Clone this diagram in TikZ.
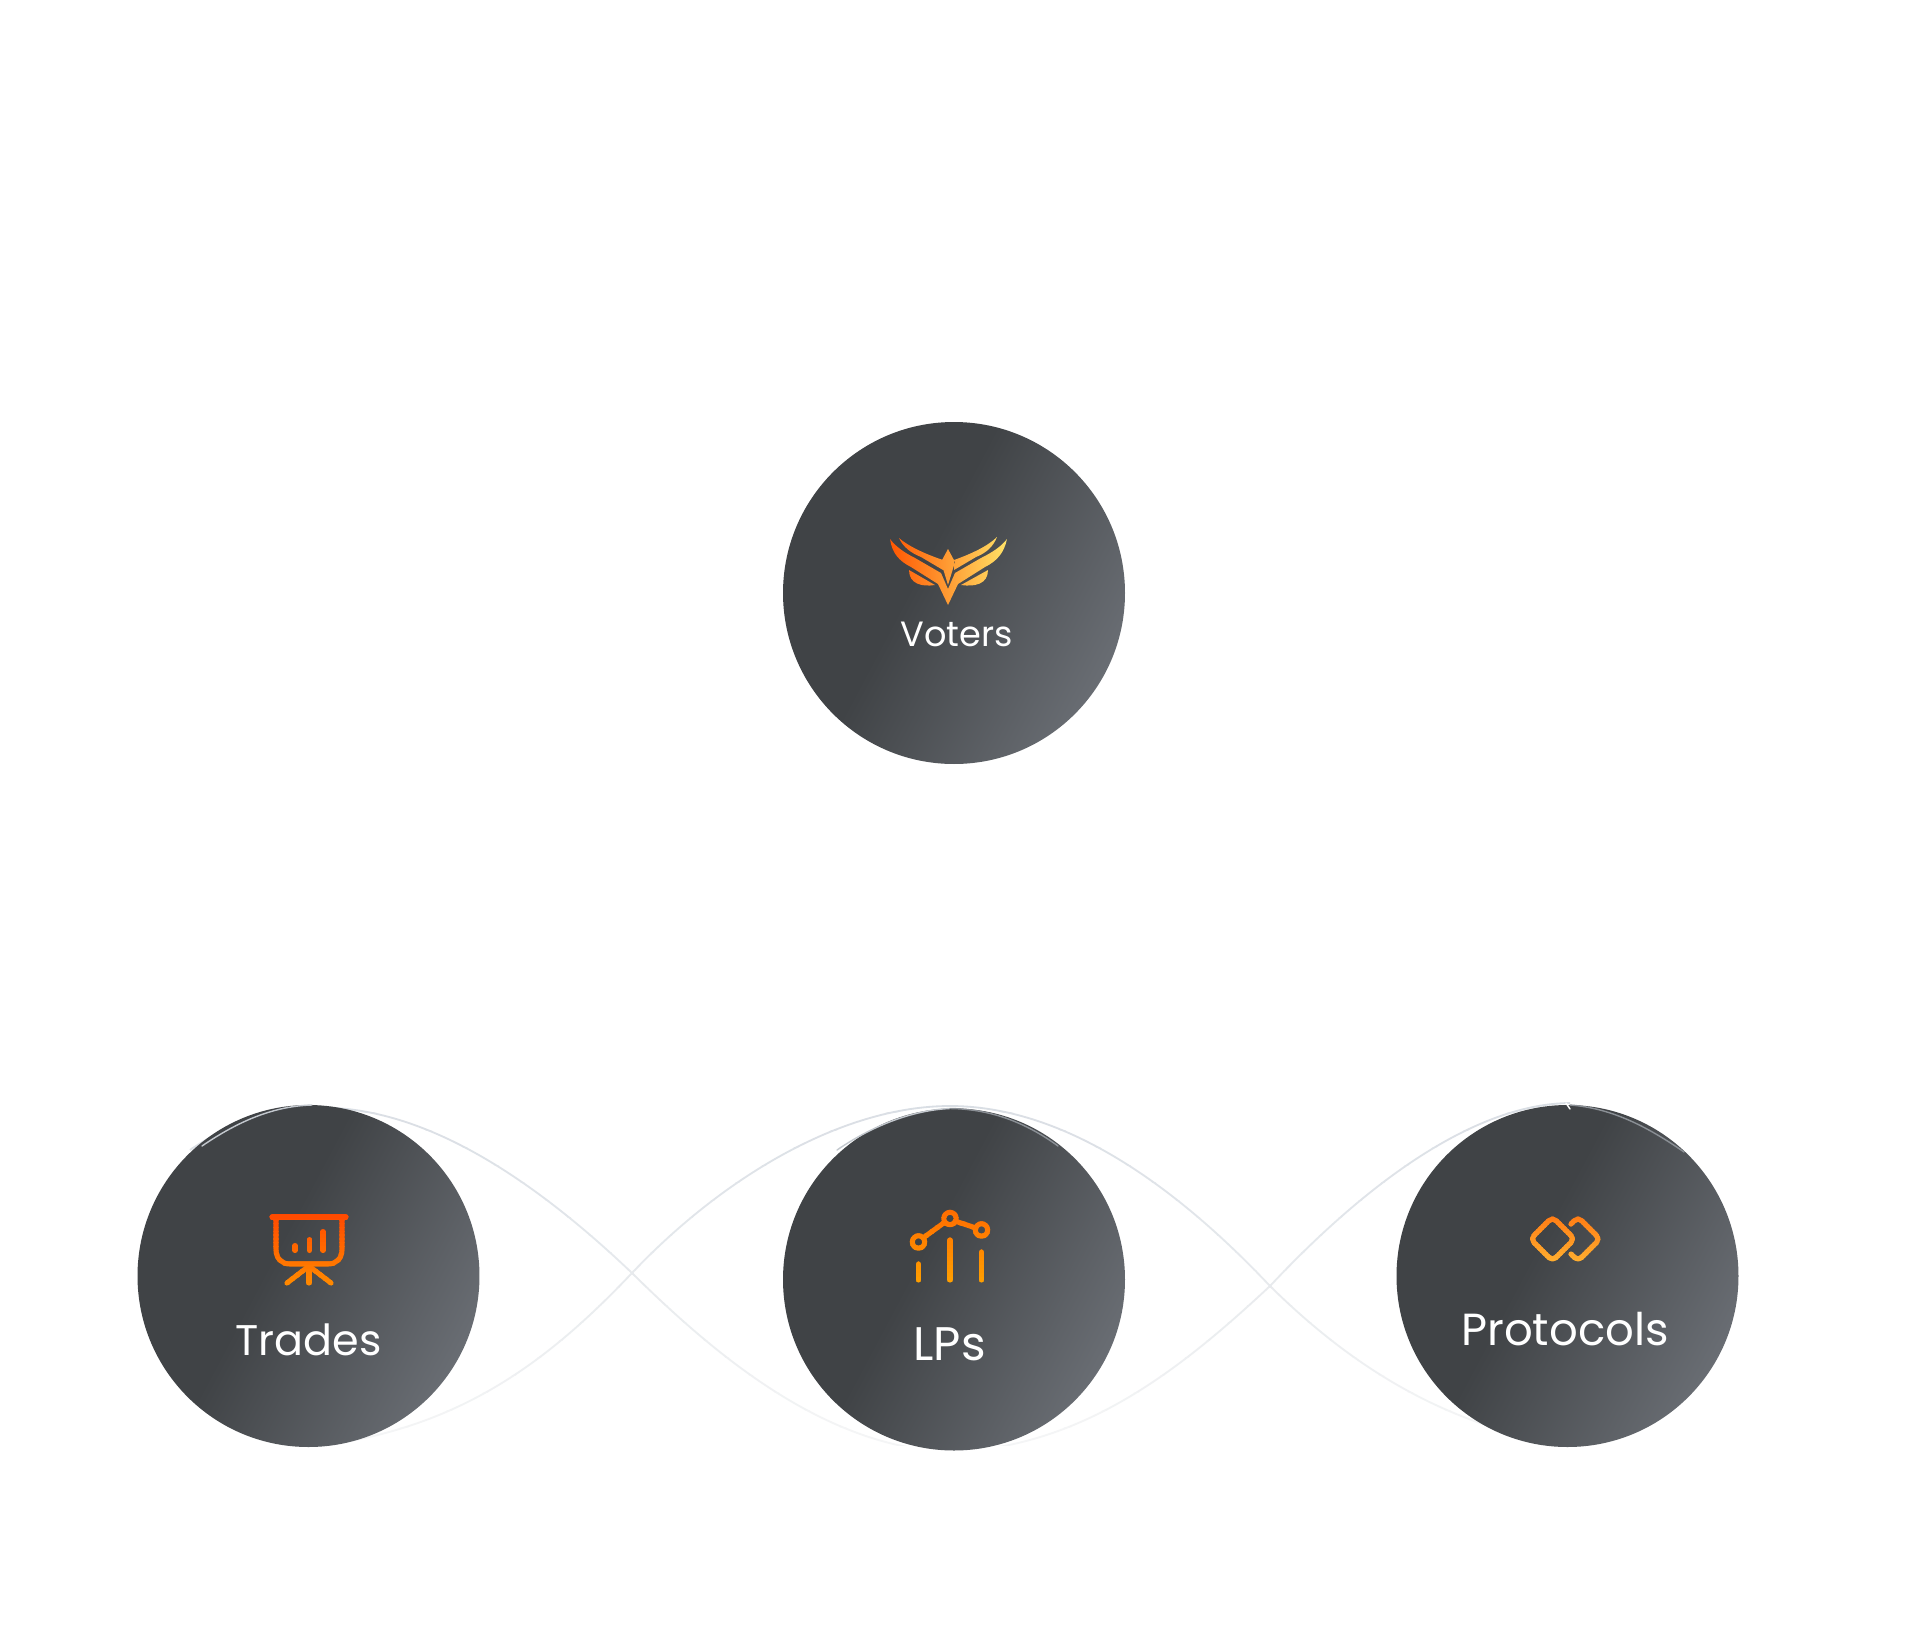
\documentclass[tikz,border=0pt]{standalone}
\usepackage{fontspec}
\setmainfont{Poppins}
\usetikzlibrary{calc}
\definecolor{discdark}{HTML}{404346}
\definecolor{disclight}{HTML}{696D73}
\definecolor{wavetop}{HTML}{D9DEE4}
\definecolor{wavelow}{HTML}{F4F5F6}
\definecolor{rimlight}{HTML}{C3C8CE}
\definecolor{rimdark}{HTML}{8A8F95}
\definecolor{wingleft}{HTML}{FF5400}
\definecolor{wingmid}{HTML}{FF8A10}
\definecolor{wingright}{HTML}{FFE468}
\definecolor{boardtop}{HTML}{FF4800}
\definecolor{boardlow}{HTML}{FF8A00}
\definecolor{charttop}{HTML}{FF6A00}
\definecolor{chartlow}{HTML}{FFA000}
\definecolor{gemtop}{HTML}{FF7A14}
\definecolor{gemlow}{HTML}{FFB030}
% Dark disc shading, darkest across the upper left, lightening to the lower right
\pgfdeclarehorizontalshading{discshade}{100bp}{
  color(0bp)=(discdark); color(44bp)=(discdark); color(75bp)=(disclight); color(100bp)=(disclight)}
\tikzset{
  x=0.05cm, y=-0.05cm,
  disc/.style={circle, minimum size=17.1cm, inner sep=0pt, shading=discshade, shading angle=-28},
  caption/.style={text=white, inner sep=0pt, anchor=base, font=\fontsize{#1}{#1}\selectfont},
  iconline/.style={line width=7.2pt, line cap=round, line join=round, draw=stripc},
  waveline/.style={stripc, line width=2.6pt},
  rimline/.style={line width=2pt, line cap=round},
}
% Paints #3 in horizontal strips from y=#1 to y=#2, blending colour #4 into colour #5
\newcommand{\stripped}[5]{%
  \foreach \s in {0,...,19}{%
    \pgfmathsetmacro{\pct}{100*\s/19}%
    \colorlet{stripc}{#5!\pct!#4}%
    \pgfmathsetmacro{\ya}{#1+(#2-#1)*\s/20}%
    \pgfmathsetmacro{\yb}{#1+(#2-#1)*(\s+1)/20+0.4}%
    \begin{scope}
      \clip (-100,\ya) rectangle (2100,\yb);
      #3
    \end{scope}
  }%
}
\begin{document}
\begin{tikzpicture}
\useasboundingbox (0,0) rectangle (1920,1651);
\fill[white] (0,0) rectangle (1920,1651);

% Crossing waves behind the lower discs
\stripped{1095}{1445}{%
  \draw[waveline]
    (190,1150) .. controls (300,1075) and (440,1090) .. (632,1273)
    .. controls (720,1360) and (830,1450) .. (955,1452);
  \draw[waveline]
    (262,1450) .. controls (440,1445) and (540,1370) .. (632,1273)
    .. controls (720,1180) and (840,1106) .. (950,1106)
    .. controls (1060,1106) and (1170,1180) .. (1270,1286)
    .. controls (1350,1365) and (1470,1452) .. (1645,1449);
  \draw[waveline]
    (945,1452) .. controls (1080,1450) and (1180,1370) .. (1270,1286)
    .. controls (1360,1190) and (1470,1104) .. (1570,1103);
}{wavetop}{wavelow}

% Discs
\node[disc] (voters) at (954,593) {};
\node[disc] (trades) at (308.5,1276) {};
\node[disc] (lps) at (954,1279.5) {};
\node[disc] (protocols) at (1567.5,1276) {};

% Highlights along the disc rims
\draw[rimlight, rimline] (202,1146) .. controls (240,1120) and (275,1106) .. (312,1105);
\draw[rimlight, rimline] (837,1150) .. controls (875,1124) and (915,1110) .. (950,1108.5);
\draw[rimdark, rimline] (950,1108.5) .. controls (990,1109) and (1025,1122) .. (1058,1146);
\draw[rimdark, rimline] (1570,1105) .. controls (1610,1108) and (1645,1125) .. (1684,1152);
\draw[white, rimline] (1566,1103) -- (1570,1109);

% Winged emblem
\begin{scope}
  \clip
    (890,539) .. controls (896,547) and (905,553) .. (915,558)
      -- (941,573) -- (948,589) -- (955,573) -- (981,558)
      .. controls (991,553) and (1001,547) .. (1007,539)
      .. controls (1004,553) and (997,561) .. (985,567)
      -- (958,584) -- (948,605) -- (938,584) -- (911,567)
      .. controls (899,561) and (892,553) .. (890,539) -- cycle
    (899,538) .. controls (908,546) and (925,554) .. (943,560)
      -- (943,570) -- (921,557) .. controls (911,553) and (903,547) .. (899,538) -- cycle
    (997,537) .. controls (988,546) and (971,554) .. (954,560)
      -- (954,570) -- (976,557) .. controls (986,553) and (993,547) .. (997,537) -- cycle
    (948,549) -- (955,562) -- (948,585) -- (941,562) -- cycle
    (909,570) -- (935,585) .. controls (922,587) and (909,584) .. (909,570) -- cycle
    (988,570) -- (961,585) .. controls (975,587) and (988,584) .. (988,570) -- cycle;
  \shade[left color=wingleft, middle color=wingmid, right color=wingright] (888,530) rectangle (1008,610);
\end{scope}

% Chart board icon
\stripped{1212}{1288}{%
  \draw[iconline] (272,1217) -- (346,1217);
  \draw[iconline] (276,1217) -- (276,1249) .. controls (276,1259) and (282,1264) .. (290,1264)
    -- (328,1264) .. controls (336,1264) and (342,1259) .. (342,1249) -- (342,1217);
  \draw[iconline] (295,1250.5) -- (295,1245.5);
  \draw[iconline] (309.5,1250.5) -- (309.5,1239.5);
  \draw[iconline] (323,1250.5) -- (323,1231.5);
  \draw[iconline] (309,1266) -- (287,1283);
  \draw[iconline] (309,1266) -- (309,1283);
  \draw[iconline] (309,1266) -- (331,1283);
}{boardtop}{boardlow}

% Line and bar chart icon
\stripped{1205}{1285}{%
  \draw[iconline] (918.5,1242) circle (6.2);
  \draw[iconline] (950,1218.5) circle (6.2);
  \draw[iconline] (981.5,1230) circle (6.2);
  \draw[iconline] (923,1238) -- (945,1222);
  \draw[iconline] (955,1221) -- (976,1228);
  \draw[iconline] (918.5,1264) -- (918.5,1280);
  \draw[iconline] (950,1240) -- (950,1280);
  \draw[iconline] (981.5,1252) -- (981.5,1280);
}{charttop}{chartlow}

% Overlapping diamonds icon
\stripped{1214}{1265}{%
  \draw[iconline, rounded corners=7pt] (1552.5,1217) -- (1574.5,1239) -- (1552.5,1261) -- (1530.5,1239) -- cycle;
  \draw[iconline, rounded corners=7pt] (1571,1224) -- (1578,1217) -- (1600,1239) -- (1578,1261) -- (1571,1254);
}{gemtop}{gemlow}

% Disc captions
\node[caption=50] (votertext) at (956.5,646) {Voters};
\node[caption=61] (tradestext) at (308.5,1355.5) {Trades};
\node[caption=67] (lptext) at (949.5,1360) {LPs};
\node[caption=64] (protext) at (1565,1345.5) {Protocols};
\end{tikzpicture}
\end{document}
